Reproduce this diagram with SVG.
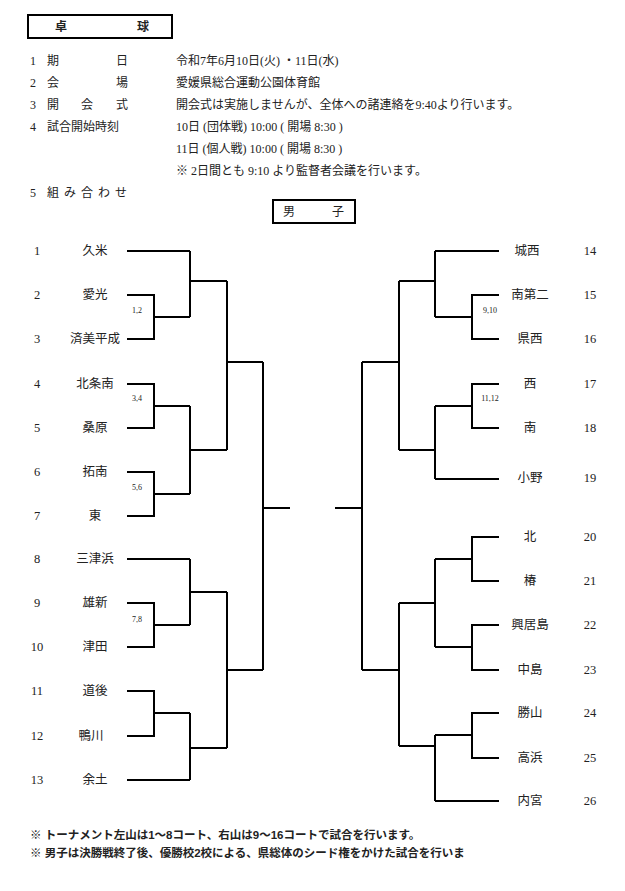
<svg xmlns="http://www.w3.org/2000/svg" width="625" height="891" viewBox="0 0 625 891">
<style>
text{font-family:"Liberation Serif","Noto Sans CJK JP",serif;font-size:12px;fill:#222}
.n{text-anchor:middle;font-size:12.5px}
.s{font-size:8px;text-anchor:middle}
.g{font-family:"Liberation Sans","Noto Sans CJK JP",sans-serif;font-weight:bold;font-size:11.5px}
.b{fill:none;stroke:#000;stroke-width:2}
.box{fill:#fff;stroke:#000;stroke-width:2}
</style>
<rect width="625" height="891" fill="#fff"/>
<g id="header">
<rect class="box" x="28" y="15" width="144" height="23"/>
<text x="55" y="31" class="g" style="font-size:12px">卓</text>
<text x="137" y="31" class="g" style="font-size:12px">球</text>
<text x="30" y="65">1</text><text x="47" y="65">期</text><text x="116" y="65">日</text>
<text x="176" y="65">令和7年6月10日(火) ・11日(水)</text>
<text x="30" y="87">2</text><text x="47" y="87">会</text><text x="116" y="87">場</text>
<text x="176" y="87">愛媛県総合運動公園体育館</text>
<text x="30" y="109">3</text><text x="47" y="109">開</text><text x="81" y="109">会</text><text x="116" y="109">式</text>
<text x="176" y="109">開会式は実施しませんが、全体への諸連絡を9:40より行います。</text>
<text x="30" y="131">4</text><text x="47" y="131">試合開始時刻</text>
<text x="176" y="131">10日 (団体戦) 10:00 ( 開場 8:30 )</text>
<text x="176" y="153">11日 (個人戦) 10:00 ( 開場 8:30 )</text>
<text x="176" y="175">※ 2日間とも 9:10 より監督者会議を行います。</text>
<text x="30" y="197">5</text><text x="47" y="197" letter-spacing="5">組み合わせ</text>
</g>
<g id="title-boys">
<rect class="box" x="273" y="200" width="82" height="23"/>
<text x="283" y="216">男</text><text x="332" y="216">子</text>
</g>
<g id="left-teams">
<text x="37" y="255" class="n">1</text><text x="95" y="255" class="n">久米</text>
<text x="37" y="299" class="n">2</text><text x="95" y="299" class="n">愛光</text>
<text x="37" y="343" class="n">3</text><text x="95" y="343" class="n">済美平成</text>
<text x="37" y="388" class="n">4</text><text x="95" y="388" class="n">北条南</text>
<text x="37" y="432" class="n">5</text><text x="95" y="432" class="n">桑原</text>
<text x="37" y="476" class="n">6</text><text x="95" y="476" class="n">拓南</text>
<text x="37" y="520" class="n">7</text><text x="95" y="520" class="n">東</text>
<text x="37" y="563" class="n">8</text><text x="95" y="563" class="n">三津浜</text>
<text x="37" y="607" class="n">9</text><text x="95" y="607" class="n">雄新</text>
<text x="37" y="651" class="n">10</text><text x="95" y="651" class="n">津田</text>
<text x="37" y="695" class="n">11</text><text x="95" y="695" class="n">道後</text>
<text x="37" y="740" class="n">12</text><text x="91" y="740" class="n">鴨川</text>
<text x="37" y="784" class="n">13</text><text x="95" y="784" class="n">余土</text>
</g>
<g id="right-teams">
<text x="527" y="255" class="n">城西</text><text x="590" y="255" class="n">14</text>
<text x="530" y="299" class="n">南第二</text><text x="590" y="299" class="n">15</text>
<text x="530" y="343" class="n">県西</text><text x="590" y="343" class="n">16</text>
<text x="530" y="388" class="n">西</text><text x="590" y="388" class="n">17</text>
<text x="530" y="432" class="n">南</text><text x="590" y="432" class="n">18</text>
<text x="530" y="482" class="n">小野</text><text x="590" y="482" class="n">19</text>
<text x="530" y="541" class="n">北</text><text x="590" y="541" class="n">20</text>
<text x="530" y="585" class="n">椿</text><text x="590" y="585" class="n">21</text>
<text x="530" y="629" class="n">興居島</text><text x="590" y="629" class="n">22</text>
<text x="530" y="674" class="n">中島</text><text x="590" y="674" class="n">23</text>
<text x="530" y="717" class="n">勝山</text><text x="590" y="717" class="n">24</text>
<text x="530" y="762" class="n">高浜</text><text x="590" y="762" class="n">25</text>
<text x="530" y="805" class="n">内宮</text><text x="590" y="805" class="n">26</text>
</g>
<g id="court-labels">
<text x="137" y="313" class="s">1,2</text>
<text x="137" y="401" class="s">3,4</text>
<text x="137" y="490" class="s">5,6</text>
<text x="137" y="622" class="s">7,8</text>
<text x="490" y="313" class="s">9,10</text>
<text x="490" y="401" class="s">11,12</text>
</g>
<g id="connectors" class="b">
<path d="M127 251H190M127 295H154V339H127M154 317H190M190 251V317M190 281H227"/>
<path d="M127 384H154V428H127M154 406H190M127 472H154V516H127M154 494H190M190 406V494M190 450H227M227 281V450M227 362H263"/>
<path d="M127 559H190M127 603H154V647H127M154 625H190M190 559V625M190 592H227"/>
<path d="M127 691H154V736H127M154 713H190M127 780H190M190 713V780M190 748H227M227 592V748M227 670H263"/>
<path d="M263 362V670M263 508H290"/>
<path d="M499 251H435M499 295H472V339H499M472 317H435M435 251V317M435 281H399"/>
<path d="M499 384H472V428H499M472 406H435M499 479H435M435 406V479M435 450H399M399 281V450M399 362H362"/>
<path d="M499 537H472V581H499M472 559H435M499 625H472V670H499M472 647H435M435 559V647M435 603H399"/>
<path d="M499 713H472V758H499M472 735H435M499 801H435M435 735V801M435 746H399M399 603V746M399 670H362"/>
<path d="M362 362V670M362 508H335"/>
</g>
<g id="footer">
<text x="30" y="839" class="g">※  トーナメント左山は1～8コート、右山は9～16コートで試合を行います。</text>
<text x="30" y="857" class="g">※  男子は決勝戦終了後、優勝校2校による、県総体のシード権をかけた試合を行いま</text>
</g>
</svg>
